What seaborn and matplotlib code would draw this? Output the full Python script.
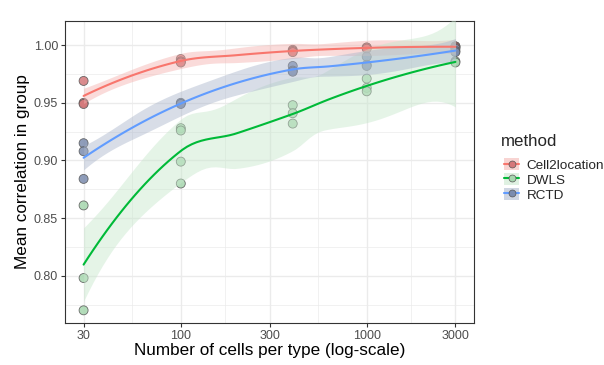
import math
import numpy as np
import pandas as pd
import matplotlib
matplotlib.use("Agg")
import matplotlib.pyplot as plt
import seaborn as sns
from matplotlib.patches import Patch
from matplotlib.lines import Line2D
from matplotlib.ticker import FixedLocator, NullFormatter

methods = ["Cell2location", "DWLS", "RCTD"]
line_colors = {"Cell2location": "#F8766D", "DWLS": "#00BA38", "RCTD": "#619CFF"}
point_colors = {"Cell2location": "#d4787a", "DWLS": "#a6d6ae", "RCTD": "#7b8cae"}
band_colors = {"Cell2location": "#f4b1ad", "DWLS": "#c6e7cb", "RCTD": "#a9b5cb"}

# values
c2l_x = [30, 30, 30, 100, 100, 100, 400, 400, 400, 1000, 1000, 1000, 3000, 3000, 3000]
c2l_y = [0.969, 0.950, 0.949, 0.988, 0.986, 0.985, 0.996, 0.995, 0.994,
         0.998, 0.998, 0.997, 0.999, 0.999, 0.998]
dwls_x = [30, 30, 30, 100, 100, 100, 100, 400, 400, 400, 1000, 1000, 1000, 3000, 3000]
dwls_y = [0.861, 0.798, 0.770, 0.928, 0.926, 0.899, 0.880, 0.948, 0.941, 0.932,
          0.971, 0.963, 0.960, 0.986, 0.985]
rctd_x = [30, 30, 30, 100, 100, 400, 400, 400, 1000, 1000, 1000, 3000, 3000, 3000]
rctd_y = [0.915, 0.908, 0.884, 0.950, 0.949, 0.982, 0.978, 0.977,
          0.990, 0.983, 0.982, 0.997, 0.995, 0.994]

x_breaks = [30, 100, 300, 1000, 3000]
y_breaks = [0.80, 0.85, 0.90, 0.95, 1.00]

df = pd.concat([
    pd.DataFrame({"cells": c2l_x, "corr": c2l_y, "method": "Cell2location"}),
    pd.DataFrame({"cells": dwls_x, "corr": dwls_y, "method": "DWLS"}),
    pd.DataFrame({"cells": rctd_x, "corr": rctd_y, "method": "RCTD"}),
], ignore_index=True)


# ---- loess (span 0.75, degree 2) with kd-tree vertices + cubic Hermite, like R ----
def local_rows(x, x0, span=0.75):
    n = len(x)
    q = int(np.floor(n * span))
    d = np.abs(x - x0)
    h = np.sort(d)[q - 1]
    w = np.clip(1 - (d / h) ** 3, 0, None) ** 3
    X = np.column_stack([np.ones(n), x - x0, (x - x0) ** 2])
    XtW = X.T * w
    B = np.linalg.pinv(XtW @ X) @ XtW
    return B[0], B[1]


def kd_vertices(xs, lo, hi, fc, out):
    k = len(xs)
    if k <= fc:
        return
    m = (1 + k) // 2
    off = 0
    while 1 <= m + off < k:
        if xs[m + off - 1] == xs[m + off]:
            off = -off
            if off >= 0:
                off += 1
        else:
            m = m + off
            break
    if xs[m - 1] == lo or xs[m - 1] == hi:
        return
    t = (xs[m - 1] + xs[m]) / 2
    out.append(t)
    kd_vertices(xs[:m], lo, t, fc, out)
    kd_vertices(xs[m:], t, hi, fc, out)


def operator(x, pts, span=0.75, cell=0.2):
    xs = np.sort(x)
    mu = 0.005 * (xs[-1] - xs[0])
    lo, hi = xs[0] - mu, xs[-1] + mu
    verts = [lo, hi]
    kd_vertices(list(xs), lo, hi, int(np.floor(len(x) * span * cell)), verts)
    verts = np.unique(verts)
    V = [local_rows(x, v, span) for v in verts]
    rows = []
    for p in pts:
        j = min(max(np.searchsorted(verts, p) - 1, 0), len(verts) - 2)
        v0, v1 = verts[j], verts[j + 1]
        hh = v1 - v0
        s = (p - v0) / hh
        rows.append(V[j][0] * (2 * s**3 - 3 * s**2 + 1) + V[j][1] * hh * (s**3 - 2 * s**2 + s)
                    + V[j + 1][0] * (-2 * s**3 + 3 * s**2) + V[j + 1][1] * hh * (s**3 - s**2))
    return np.array(rows)


def t_quantile(p, v):
    c = math.exp(math.lgamma((v + 1) / 2) - math.lgamma(v / 2)) / math.sqrt(v * math.pi)
    t = np.linspace(0, 30, 30001)
    pdf = c * (1 + t ** 2 / v) ** (-(v + 1) / 2)
    cdf = 0.5 + np.concatenate([[0], np.cumsum((pdf[1:] + pdf[:-1]) / 2 * np.diff(t))])
    return float(np.interp(p, cdf, t))


def smooth(xv, yv, grid):
    x = np.log10(np.asarray(xv, float))
    y = np.asarray(yv, float)
    n = len(x)
    L = operator(x, x)
    res = y - L @ y
    M = (np.eye(n) - L).T @ (np.eye(n) - L)
    d1 = np.trace(M)
    d2 = np.trace(M @ M)
    s = math.sqrt(np.sum(res ** 2) / d1)
    tq = t_quantile(0.975, d1 ** 2 / d2)
    G = operator(x, np.log10(grid))
    fit = G @ y
    se = s * np.sqrt(np.sum(G ** 2, axis=1))
    return fit, fit - tq * se, fit + tq * se


sns.set_theme(style="white")
plt.rcParams["font.family"] = ["Liberation Sans", "DejaVu Sans"]

fig = plt.figure(figsize=(6.04, 3.65), dpi=100)
ax = fig.add_axes([65 / 604, 42 / 365, 409 / 604, 302 / 365])
ax.set_xscale("log")

sns.scatterplot(data=df, x="cells", y="corr", hue="method", palette=point_colors,
                hue_order=methods, s=42, edgecolor="#555555", linewidth=0.6,
                alpha=0.85, legend=False, ax=ax, zorder=2)

grid = np.logspace(np.log10(30), np.log10(3000), 80)
curves = []
for m in methods:
    sub = df[df["method"] == m]
    fit, lo, hi = smooth(sub["cells"], sub["corr"], grid)
    ax.fill_between(grid, lo, hi, color=band_colors[m], alpha=0.45, linewidth=0, zorder=3)
    curves.append(pd.DataFrame({"cells": grid, "corr": fit, "method": m}))
curves = pd.concat(curves, ignore_index=True)
sns.lineplot(data=curves, x="cells", y="corr", hue="method", palette=line_colors,
             hue_order=methods, linewidth=1.5, legend=False, ax=ax, zorder=4)

ax.set_xlim(10 ** (np.log10(30) - 0.1), 10 ** (np.log10(3000) + 0.1))
ax.set_ylim(0.759, 1.021)
ax.xaxis.set_major_locator(FixedLocator(x_breaks))
ax.set_xticklabels([str(b) for b in x_breaks])
ax.xaxis.set_minor_locator(FixedLocator([54.8, 173.2, 547.7, 1732]))
ax.xaxis.set_minor_formatter(NullFormatter())
ax.yaxis.set_major_locator(FixedLocator(y_breaks))
ax.set_yticklabels([f"{b:.2f}" for b in y_breaks])
ax.yaxis.set_minor_locator(FixedLocator([0.775, 0.825, 0.875, 0.925, 0.975, 1.025]))

ax.grid(which="major", color="#ebebeb", linewidth=1.0, zorder=0)
ax.grid(which="minor", color="#ebebeb", linewidth=0.5, zorder=0)
ax.set_axisbelow(True)
for sp in ax.spines.values():
    sp.set_color("#333333")
    sp.set_linewidth(0.8)
ax.tick_params(which="major", length=3, width=0.8, color="#333333", labelsize=9,
               labelcolor="#4d4d4d", pad=2, bottom=True, left=True)
ax.tick_params(which="minor", length=0)

ax.set_xlabel("Number of cells per type (log-scale)", fontsize=12.3, color="black", labelpad=1)
ax.set_ylabel("Mean correlation in group", fontsize=12.3, color="black", labelpad=3)

handles = []
for m in methods:
    handles.append((Patch(facecolor=band_colors[m], alpha=0.55, edgecolor="none"),
                    Line2D([], [], color=line_colors[m], linewidth=1.5, marker="o",
                           markersize=5, markerfacecolor=point_colors[m],
                           markeredgecolor="#555555", markeredgewidth=0.5)))
fig.text(501 / 604, 1 - 142 / 365, "method", fontsize=12.2, va="center", ha="left")
leg = fig.legend(handles, methods, loc="upper left",
                 bbox_to_anchor=(495 / 604, 1 - 149 / 365), frameon=False,
                 fontsize=9.7, handlelength=1.1, handleheight=1.0,
                 handletextpad=0.55, labelspacing=0.08, borderpad=0.2)

fig.savefig("out.png", dpi=100)
